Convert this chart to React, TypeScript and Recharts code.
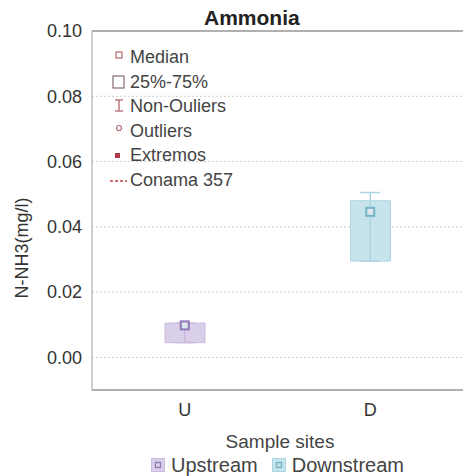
import React from "react";
import {
  ComposedChart,
  Bar,
  Cell,
  Scatter,
  ErrorBar,
  XAxis,
  YAxis,
  CartesianGrid,
  ReferenceLine,
} from "recharts";

// sample sites and box-plot stats
const sites = ["U", "D"];
const siteNames = ["Upstream", "Downstream"];
const q1 = [0.0045, 0.0295];
const q3 = [0.0105, 0.048];
const whiskerMin = [0.0045, 0.0295];
const whiskerMax = [0.0105, 0.0505];
const medians = [0.0098, 0.0446];
const yTicks = [0, 0.02, 0.04, 0.06, 0.08, 0.1];

const boxFill = ["#d9cfe8", "#c7e4ed"];
const boxStroke = ["#cbbcdf", "#aed6e2"];
const markColor = ["#8f78b8", "#6fb3c8"];

const FONT = "'Liberation Sans', Arial, sans-serif";

const rows = sites.map((s, i) => ({
  site: s,
  box: [q1[i], q3[i]],
  median: medians[i],
  err: [medians[i] - whiskerMin[i], whiskerMax[i] - medians[i]],
}));

const MedianMark = (color: string) => (props: any) => {
  const { cx, cy } = props;
  return (
    <rect
      x={cx - 4}
      y={cy - 4}
      width={8}
      height={8}
      fill="#dde6ec"
      stroke={color}
      strokeWidth={2}
    />
  );
};

const legendRows = [
  { label: "Median", icon: "median" },
  { label: "25%-75%", icon: "box" },
  { label: "Non-Ouliers", icon: "whisker" },
  { label: "Outliers", icon: "outlier" },
  { label: "Extremos", icon: "extreme" },
  { label: "Conama 357", icon: "dash" },
];

function LegendIcon({ kind }: { kind: string }) {
  const c = "#b46a6a";
  return (
    <svg width={20} height={16} style={{ flex: "none" }}>
      {kind === "median" && (
        <rect x={7} y={3} width={6} height={6} fill="none" stroke={c} strokeWidth={1.2} />
      )}
      {kind === "box" && (
        <rect x={4} y={2} width={11} height={12} fill="none" stroke="#8a6a6a" strokeWidth={1.2} />
      )}
      {kind === "whisker" && (
        <g stroke={c} strokeWidth={1.3}>
          <line x1={6} y1={2} x2={14} y2={2} />
          <line x1={10} y1={2} x2={10} y2={13} />
          <line x1={6} y1={13} x2={14} y2={13} />
        </g>
      )}
      {kind === "outlier" && (
        <circle cx={10} cy={5} r={2.5} fill="none" stroke={c} strokeWidth={1.2} />
      )}
      {kind === "extreme" && <rect x={6} y={5} width={5} height={5} fill="#b03a48" />}
      {kind === "dash" && (
        <line x1={1} y1={9} x2={18} y2={9} stroke="#c04040" strokeWidth={1.5} strokeDasharray="3 2" />
      )}
    </svg>
  );
}

export default function App() {
  return (
    <div
      style={{
        position: "absolute",
        left: 0,
        top: 0,
        width: 463,
        height: 476,
        background: "#fff",
        fontFamily: FONT,
      }}
    >
      <ComposedChart
        width={463}
        height={476}
        data={rows}
        margin={{ top: 31, right: 0, bottom: 0, left: 0 }}
      >
        <CartesianGrid
          horizontal
          vertical={false}
          stroke="#cfcfcf"
          strokeDasharray="2 2"
        />
        <XAxis
          dataKey="site"
          allowDuplicatedCategory={false}
          height={86}
          axisLine={{ stroke: "#b0b0b0", strokeWidth: 2 }}
          tickLine={false}
          tick={{ fill: "#333", fontSize: 18, fontFamily: FONT }}
          tickMargin={7}
        />
        <YAxis
          type="number"
          domain={[-0.01, 0.1]}
          ticks={yTicks}
          width={92}
          axisLine={{ stroke: "#a0a0a0" }}
          tickLine={false}
          tickMargin={4}
          tickFormatter={(v: number) => v.toFixed(2)}
          tick={{ fill: "#333", fontSize: 18, fontFamily: FONT }}
          label={() => (
            <text
              x={22}
              y={248}
              transform="rotate(-90 22 248)"
              textAnchor="middle"
              dominantBaseline="central"
              fill="#333"
              fontSize={18}
              fontFamily={FONT}
            >
              N-NH3(mg/l)
            </text>
          )}
        />
        <ReferenceLine y={0.1} stroke="#b0b0b0" strokeWidth={2} ifOverflow="visible" />
        <Bar dataKey="box" barSize={40} isAnimationActive={false}>
          {rows.map((r, i) => (
            <Cell key={r.site} fill={boxFill[i]} stroke={boxStroke[i]} />
          ))}
        </Bar>
        {rows.map((r, i) => (
          <Scatter
            key={r.site}
            data={[r]}
            dataKey="median"
            isAnimationActive={false}
            shape={MedianMark(markColor[i])}
          >
            <ErrorBar
              dataKey="err"
              direction="y"
              width={10}
              stroke={boxStroke[i]}
              strokeWidth={1.5}
              isAnimationActive={false}
            />
          </Scatter>
        ))}
      </ComposedChart>

      <div
        style={{
          position: "absolute",
          left: 204,
          top: 6,
          fontWeight: "bold",
          fontSize: 21,
          lineHeight: "24px",
          color: "#222",
        }}
      >
        Ammonia
      </div>

      <div
        style={{
          position: "absolute",
          left: 109,
          top: 45,
          fontSize: 18,
          color: "#444",
          lineHeight: "24.6px",
        }}
      >
        {legendRows.map((r) => (
          <div key={r.label} style={{ display: "flex", alignItems: "center", gap: 1 }}>
            <LegendIcon kind={r.icon} />
            <span>{r.label}</span>
          </div>
        ))}
      </div>

      <div
        style={{
          position: "absolute",
          left: 0,
          width: 463,
          top: 431,
          paddingLeft: 97,
          boxSizing: "border-box",
          textAlign: "center",
          fontSize: 19,
          lineHeight: "22px",
          color: "#444",
        }}
      >
        Sample sites
      </div>

      <div
        style={{
          position: "absolute",
          left: 151,
          top: 454,
          display: "flex",
          gap: 14,
          fontSize: 20,
          lineHeight: "22px",
          color: "#444",
        }}
      >
        {siteNames.map((n, i) => (
          <div key={n} style={{ display: "flex", alignItems: "center", gap: 6 }}>
            <svg width={14} height={14}>
              <rect x={0.5} y={0.5} width={13} height={13} fill={boxFill[i]} stroke={boxStroke[i]} />
              <rect x={4.5} y={4.5} width={5} height={5} fill="none" stroke={markColor[i]} strokeWidth={1.3} />
            </svg>
            <span>{n}</span>
          </div>
        ))}
      </div>
    </div>
  );
}
